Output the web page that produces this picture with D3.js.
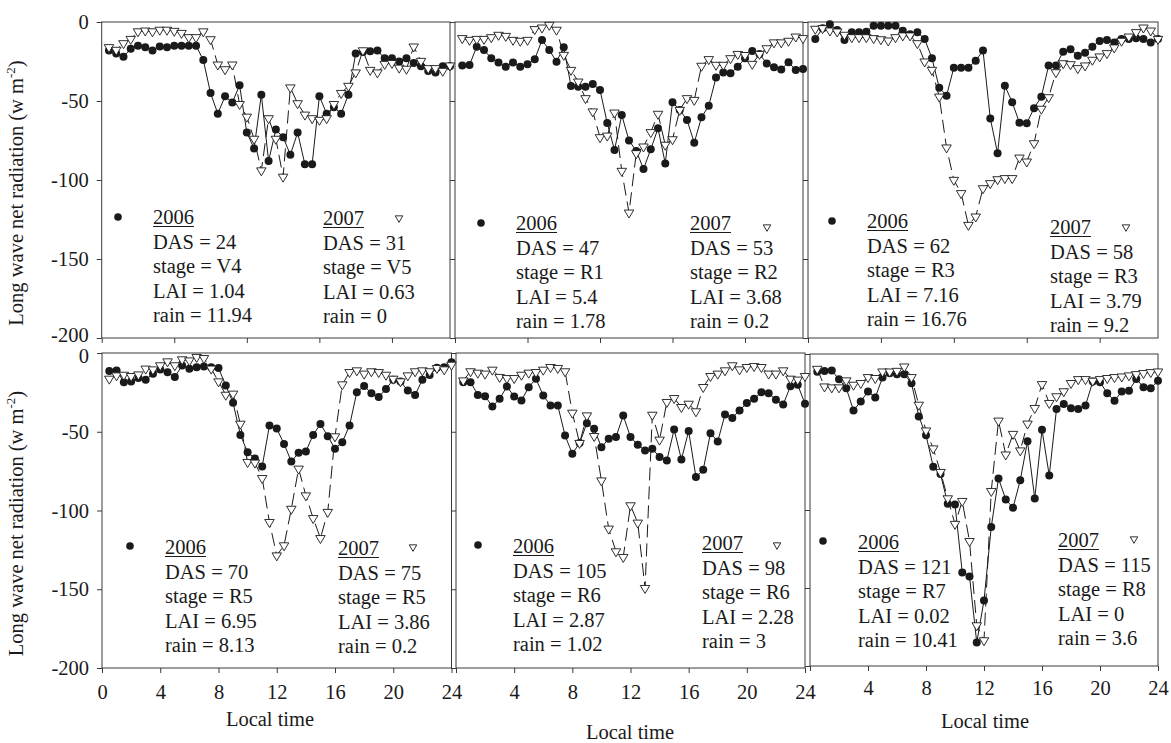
<!DOCTYPE html>
<html>
<head>
<meta charset="utf-8">
<script src="https://cdn.jsdelivr.net/npm/d3@7"></script>
<style>
  body { margin: 0; background: #fff; }
  svg { display: block; }
  svg text { font-family: "Liberation Serif", "DejaVu Serif", serif; }
</style>
</head>
<body>
<div id="chart"></div>
<script>
d3.selection.prototype.attrs = function (map) {
  Object.entries(map).forEach(([k, v]) => this.attr(k, v))
  return this
}

// Data: long wave net radiation (w m-2), half hourly, local time

let hours = [
  0.5, 1, 1.5, 2, 2.5, 3, 3.5, 4, 4.5, 5, 5.5, 6, 6.5, 7, 7.5, 8,
  8.5, 9, 9.5, 10, 10.5, 11, 11.5, 12, 12.5, 13, 13.5, 14, 14.5, 15, 15.5, 16,
  16.5, 17, 17.5, 18, 18.5, 19, 19.5, 20, 20.5, 21, 21.5, 22, 22.5, 23, 23.5, 24,
]

// 2006 DAS 24 / 2007 DAS 31
let das24 = [
  -18, -20, -22, -17, -15, -16, -18, -15.5, -16, -15, -15, -15, -15, -24, -45, -58,
  -47, -51, -40, -70, -80, -46, -88, -68, -73, -84, -70, -90, -90, -47, -58, -54,
  -58, -46, -20, -19, -18.5, -18, -23, -23, -25, -23, -26, -28, -31, -32, -28, -28,
]
let das31 = [
  -16, -17.7, -13.5, -10.8, -6, -5.5, -6, -5, -5, -5.7, -7, -9.7, -9.7, -6, -11, -27,
  -30, -27, -52, -60, -74, -94, -61, -74, -98, -41.5, -51.5, -58.7, -61, -62, -61, -52,
  -45, -40.5, -32, -18, -30.4, -32, -26.6, -26, -29, -29.7, -15.6, -24.7, -29.3, -29.3, -31, -27.6,
]

// 2006 DAS 47 / 2007 DAS 53
let das47 = [
  -27.6, -27.2, -15.6, -17.7, -23, -25.7, -28.3, -25.7, -28.3, -26.8, -23.6, -11.4, -17.7, -25.1, -16, -40.5,
  -41, -41, -39.2, -43, -64, -81, -58.9, -75, -81.6, -93, -80.6, -67.3, -89.5, -50.8, -55.7, -62,
  -76.4, -60.3, -53, -35.2, -31.9, -32.5, -28.3, -23, -18.4, -20.3, -26.2, -28.7, -30, -25.5, -30.4, -29.7,
]
let das53 = [
  -10.3, -11.4, -10.8, -10.8, -9.7, -8.2, -8.9, -11.4, -12, -11.4, -4.6, -3.6, -1.9, -5, -20.9, -30.4,
  -37.8, -48.3, -56.7, -73, -72, -57.4, -94.3, -120.7, -83.1, -78.9, -69.8, -58.2, -77.8, -74.3, -55.7, -48.3,
  -49.4, -27.8, -23.6, -27.2, -27.2, -23, -20.3, -21, -26.6, -20.3, -16.7, -13, -13, -12, -9.3, -10.3,
]

// 2006 DAS 62 / 2007 DAS 58
let das62 = [
  -10.8, -4, -1.5, -5, -11.4, -6.5, -6.5, -6.1, -2.3, -2.3, -2.3, -2.3, -5.5, -7.8, -6.5, -10.8,
  -23, -41.6, -46.6, -28.9, -28.9, -28.9, -24.5, -18.1, -61, -83.1, -40.3, -50.8, -63.7, -64.1, -54.6, -47.3,
  -27.6, -27.6, -18.8, -17.3, -21.3, -19.4, -15.6, -12, -11.4, -12.9, -10.8, -10.8, -10.3, -10.8, -12.9, -10.8,
]
let das58 = [
  -4.4, -4, -5.5, -6.1, -8.2, -9.7, -9.7, -9.7, -10.3, -11, -11.8, -9.7, -8.6, -8.6, -13.5, -25.1,
  -30.4, -47.3, -79.5, -100, -108.4, -128.5, -123.2, -105.3, -102.1, -99.6, -98.9, -98.9, -85.9, -88.4, -76.8, -55,
  -47.7, -31.9, -26.2, -26.8, -29.3, -27.6, -24, -21.9, -19.8, -16.2, -12, -9.3, -6.5, -3.6, -5.5, -10.8,
]

// 2006 DAS 70 / 2007 DAS 75
let das70 = [
  -11.5, -11.1, -18.5, -18.1, -15.8, -17, -13.2, -10.5, -12.2, -15.3, -7.9, -10, -9, -8.6, -9, -9.6,
  -20.6, -31.6, -52, -63, -67, -72, -46, -48, -57.7, -68.9, -63.4, -62.5, -52, -45, -52.8, -60.8,
  -56.6, -46, -24.9, -21, -25.5, -28, -22.8, -17, -18.1, -23.8, -26.6, -17, -13.9, -9.4, -9, -5.8,
]
let das75 = [
  -16.4, -14.3, -13.9, -14.7, -13.7, -10, -10.5, -7.9, -5.4, -7.9, -4.1, -4.8, -2.6, -3.3, -10, -18.1,
  -26.6, -25.9, -45, -69.3, -69.7, -79.5, -107.4, -128.6, -122.2, -99, -73.5, -90.5, -104.9, -117.6, -101, -53,
  -20, -12.2, -11.1, -13.2, -11.7, -12.2, -13.9, -16.4, -18.1, -14.3, -11.7, -11.1, -11.7, -9.6, -10.5, -7.5,
]

// 2006 DAS 105 / 2007 DAS 98
let das105 = [
  -18.5, -18.5, -26.6, -27.4, -34, -29.1, -21.3, -27.6, -30.2, -21.7, -16.4, -27, -33.3, -33.3, -52.4, -64,
  -57.2, -44.6, -48.1, -59.8, -54.5, -53.4, -39.7, -53.4, -58.3, -61.9, -60.8, -66.1, -68.2, -48.6, -67.6, -49.6,
  -78.8, -74.2, -50.9, -56.2, -39, -41.2, -36.5, -31.8, -29.1, -24.9, -25.5, -29.7, -32.7, -21.1, -20.2, -32.3,
]
let das98 = [
  -17.5, -11.7, -12.6, -13.2, -10.7, -15.3, -16, -16, -13.9, -12.6, -12.2, -10.7, -9, -9.6, -11.7, -38,
  -57.2, -39.7, -52.8, -81, -111.6, -126, -129.6, -96.8, -107.8, -149.3, -39.3, -55.1, -31.2, -28.7, -34.4, -32.3,
  -37.1, -21.7, -14.7, -13.2, -11.1, -7.9, -10.5, -9, -8.4, -9, -13.2, -13.2, -11.1, -16.4, -17, -14.7,
]

// 2006 DAS 121 / 2007 DAS 115
let das121 = [
  -11.3, -10.9, -10.6, -16.2, -21.9, -36.2, -30.4, -24, -27.9, -15.1, -12.3, -13, -13, -18.7, -40, -52.1,
  -72.3, -77, -96, -96.4, -140, -142.6, -185, -158, -110.9, -79.8, -93.2, -98.5, -80.9, -56, -92.6, -48.5,
  -77.9, -35.3, -32.1, -34.7, -35.3, -33, -17.7, -18.1, -25.1, -30, -24, -23.6, -16, -21.3, -21.9, -17.2,
]
let das115 = [
  -9.6, -20.9, -21.5, -21.5, -17, -19.8, -18.7, -14.9, -15.5, -11.3, -11.3, -10.9, -8.1, -14.9, -32.6, -49.1,
  -60.6, -75.7, -92.6, -109, -94.3, -120, -174, -183.6, -87.9, -42.8, -64.5, -51.3, -61.9, -44.7, -34.7, -19.4,
  -31.5, -27.2, -24, -18.7, -16.2, -16.2, -17.2, -16.2, -15.5, -14.9, -14.5, -13.8, -13, -12.3, -11.7, -11.3,
]

// Panel notes

let das2006 = [24, 47, 62, 70, 105, 121]
let das2007 = [31, 53, 58, 75, 98, 115]
let stage2006 = [`V4`, `R1`, `R3`, `R5`, `R6`, `R7`]
let stage2007 = [`V5`, `R2`, `R3`, `R5`, `R6`, `R8`]
let lai2006 = [`1.04`, `5.4`, `7.16`, `6.95`, `2.87`, `0.02`]
let lai2007 = [`0.63`, `3.68`, `3.79`, `3.86`, `2.28`, `0`]
let rain2006 = [`11.94`, `1.78`, `16.76`, `8.13`, `1.02`, `10.41`]
let rain2007 = [`0`, `0.2`, `9.2`, `0.2`, `3`, `3.6`]

// Axes

let yTicks = [0, -50, -100, -150, -200]
let topTicks = [0, 5, 10, 15, 20]
let bottomTicks = [0, 4, 8, 12, 16, 20, 24]

// Layout

let width = 1171
let height = 743
let serif = `"Liberation Serif", "DejaVu Serif", serif`
let ink = `#1a1a1a`
let frameInk = `#3a3a3a`
let fontSize = `20.5px`
let lineGap = 24.5

let panels = [
  { s06: das24, s07: das31, x0: 101.7, x1: 450, y0: 22, y1: 338, ticks: topTicks, labels: [], yLabels: true,
    dot: [118, 217], col06: [153, 217], col07: [323, 218], tri: [399, 218] },
  { s06: das47, s07: das53, x0: 455, x1: 803, y0: 22, y1: 338, ticks: topTicks, labels: [], yLabels: false,
    dot: [481, 223], col06: [516, 223], col07: [690, 223], tri: [767, 227] },
  { s06: das62, s07: das58, x0: 808, x1: 1158, y0: 22, y1: 338, ticks: topTicks, labels: [], yLabels: false,
    dot: [832, 221], col06: [867, 221], col07: [1050, 227], tri: [1126, 227] },
  { s06: das70, s07: das75, x0: 102, x1: 451.5, y0: 353, y1: 668, ticks: bottomTicks, labels: bottomTicks, yLabels: true,
    pad: 11, title: [270, 726], dot: [130, 546], col06: [165, 547], col07: [338, 548], tri: [413, 547] },
  { s06: das105, s07: das98, x0: 456, x1: 805, y0: 353, y1: 668, ticks: bottomTicks, labels: bottomTicks.slice(1), yLabels: false,
    pad: 11, title: [630, 739], dot: [478, 545], col06: [513, 546], col07: [702, 543], tri: [777, 545] },
  { s06: das121, s07: das115, x0: 810, x1: 1158, y0: 354, y1: 666, ticks: bottomTicks, labels: bottomTicks.slice(1), yLabels: false,
    pad: 9, title: [985, 728], dot: [823, 541], col06: [858, 542], col07: [1058, 540], tri: [1134, 539] },
]

let triangle = (w, h) => `M${-w / 2},${-h / 3}L${w / 2},${-h / 3}L0,${(2 * h) / 3}Z`

let svg = d3
  .select(`#chart`)
  .append(`svg`)
  .attrs({ width, height, viewBox: `0 0 ${width} ${height}`, 'font-family': serif })

svg.append(`rect`).attrs({ width, height, fill: `#fff` })

panels.forEach((p, k) => {
  let x = d3.scaleLinear().domain([0, 24]).range([p.x0, p.x1])
  let y = d3.scaleLinear().domain([-200, 0]).range([p.y1, p.y0])
  let g = svg.append(`g`).attr(`class`, `panel-${k}`)

  // Frame

  g.append(`rect`).attrs({
    x: p.x0,
    y: p.y0,
    width: p.x1 - p.x0,
    height: p.y1 - p.y0,
    fill: `none`,
    stroke: frameInk,
    'stroke-width': 1,
  })

  // yAxis

  let yAxis = g
    .append(`g`)
    .attr(`transform`, `translate(${p.x0},0)`)
    .call(
      d3.axisLeft(y)
        .tickValues(yTicks)
        .tickSize(5)
        .tickPadding(8)
        .tickFormat(d => (p.yLabels ? `${d}` : ``))
    )
  yAxis.select(`.domain`).remove()
  yAxis.selectAll(`line`).attr(`stroke`, frameInk)
  yAxis.attrs({ 'font-family': serif, 'font-size': fontSize })
  yAxis.selectAll(`text`).attr(`fill`, ink)

  // keep the -200 of the upper row and the 0 of the lower row apart
  yAxis.selectAll(`.tick text`)
    .attr(`dy`, d => (d === -200 && k < 3 ? `0.16em` : d === 0 && k >= 3 ? `0.46em` : `0.32em`))

  // xAxis

  let xAxis = g
    .append(`g`)
    .attr(`transform`, `translate(0,${p.y1})`)
    .call(
      d3.axisBottom(x)
        .tickValues(p.ticks)
        .tickSize(5)
        .tickPadding(p.pad || 3)
        .tickFormat(d => (p.labels.includes(d) ? `${d}` : ``))
    )
  xAxis.select(`.domain`).remove()
  xAxis.selectAll(`line`).attr(`stroke`, frameInk)
  xAxis.attrs({ 'font-family': serif, 'font-size': fontSize })
  xAxis.selectAll(`text`).attr(`fill`, ink)

  if (p.title) {
    g.append(`text`)
      .attrs({ x: p.title[0], y: p.title[1], 'text-anchor': `middle`, 'font-size': fontSize, 'font-family': serif, fill: ink })
      .text(`Local time`)
  }

  // 2006: solid line, filled circles

  let line = d3.line().x((d, i) => x(hours[i])).y(d => y(d))

  g.append(`path`)
    .datum(p.s06)
    .attrs({ d: line, fill: `none`, stroke: ink, 'stroke-width': 1 })

  g.append(`g`)
    .selectAll(`circle`)
    .data(p.s06)
    .join(`circle`)
    .attrs({ cx: (d, i) => x(hours[i]), cy: d => y(d), r: 4, fill: ink })

  // 2007: long dash line, open triangles

  g.append(`path`)
    .datum(p.s07)
    .attrs({ d: line, fill: `none`, stroke: ink, 'stroke-width': 1, 'stroke-dasharray': `13,6` })

  g.append(`g`)
    .selectAll(`path`)
    .data(p.s07)
    .join(`path`)
    .attrs({
      d: triangle(9.5, 8),
      transform: (d, i) => `translate(${x(hours[i])},${y(d)})`,
      fill: `#fff`,
      stroke: ink,
      'stroke-width': 0.9,
    })

  // Notes

  g.append(`circle`).attrs({ cx: p.dot[0], cy: p.dot[1], r: 3.8, fill: ink })
  g.append(`path`).attrs({
    d: triangle(7.5, 6.5),
    transform: `translate(${p.tri[0]},${p.tri[1]})`,
    fill: `#fff`,
    stroke: ink,
    'stroke-width': 0.9,
  })

  let column = ([cx, cy], rows) => {
    let texts = rows.map((row, i) =>
      g.append(`text`)
        .attrs({ x: cx, y: cy + 7 + i * lineGap, 'font-size': fontSize, 'font-family': serif, fill: ink })
        .text(row)
    )
    let w = texts[0].node().getComputedTextLength()
    g.append(`line`).attrs({ x1: cx, x2: cx + w, y1: cy + 9.5, y2: cy + 9.5, stroke: ink, 'stroke-width': 1 })
  }

  column(p.col06, [`2006`, `DAS = ${das2006[k]}`, `stage = ${stage2006[k]}`, `LAI = ${lai2006[k]}`, `rain = ${rain2006[k]}`])
  column(p.col07, [`2007`, `DAS = ${das2007[k]}`, `stage = ${stage2007[k]}`, `LAI = ${lai2007[k]}`, `rain = ${rain2007[k]}`])

  // y title

  if (p.yLabels) {
    let title = svg
      .append(`text`)
      .attrs({
        transform: `translate(${p.x0 - 79},${(p.y0 + p.y1) / 2 + 13}) rotate(-90)`,
        'text-anchor': `middle`,
        'font-size': fontSize,
        'font-family': serif,
        fill: ink,
      })
    title.append(`tspan`).text(`Long wave net radiation (w m`)
    title.append(`tspan`).attrs({ dy: -8, 'font-size': `13px` }).text(`-2`)
    title.append(`tspan`).attrs({ dy: 8 }).text(`)`)
  }
})
</script>
</body>
</html>
